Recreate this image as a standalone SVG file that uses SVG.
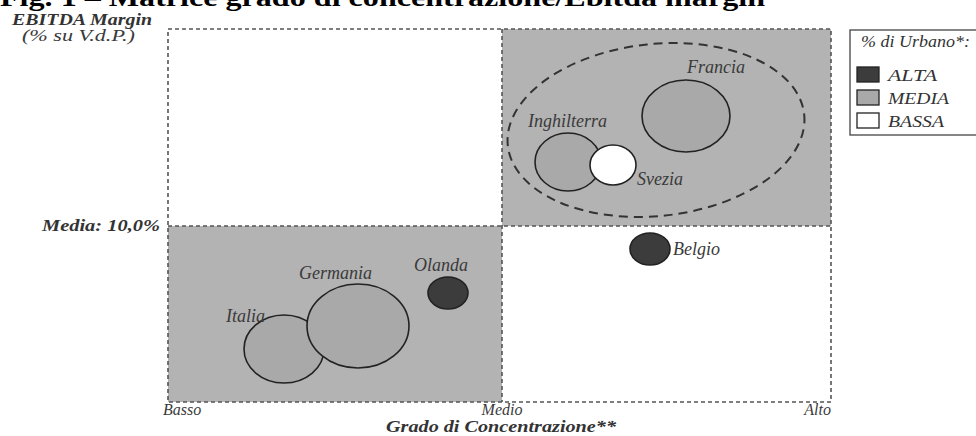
<svg xmlns="http://www.w3.org/2000/svg" width="976" height="436" viewBox="0 0 976 436">
<style>
.lbl{font-family:"Liberation Serif","DejaVu Serif",serif;font-style:italic;font-size:18px;fill:#3a3a3a}
.ax{font-family:"Liberation Serif","DejaVu Serif",serif;font-style:italic;font-size:16px;fill:#3a3a3a}
.axb{font-family:"Liberation Serif","DejaVu Serif",serif;font-style:italic;font-weight:bold;font-size:16px;fill:#333}
.title{font-family:"Liberation Serif","DejaVu Serif",serif;font-weight:bold;font-size:26px;fill:#000}
.grid{fill:none;stroke:#555;stroke-width:1.6;stroke-dasharray:4 3}
.quad{fill:#b3b3b3}
.bub{stroke:#222;stroke-width:1.6}
.alta{fill:#3c3c3c}
.media{fill:#a9a9a9}
.bassa{fill:#fff}
.leg{font-family:"Liberation Serif","DejaVu Serif",serif;font-style:italic;font-size:17px;fill:#333}
</style>
<rect width="976" height="436" fill="#fff"/>
<text class="title" x="0" y="6" textLength="765" lengthAdjust="spacingAndGlyphs">Fig. 1 – Matrice grado di concentrazione/Ebitda margin</text>

<g id="quadrants">
<rect class="quad" x="502" y="29" width="329" height="197"/>
<rect class="quad" x="168" y="226" width="334" height="176"/>
<rect class="grid" x="168" y="29" width="663" height="373"/>
<line class="grid" x1="502" y1="29" x2="502" y2="402"/>
<line class="grid" x1="168" y1="226" x2="831" y2="226"/>
</g>

<g id="axes-labels">
<text class="axb" x="12" y="24.5" font-size="14" textLength="140" lengthAdjust="spacingAndGlyphs">EBITDA Margin</text>
<text class="ax" x="22" y="41" font-size="13.5" textLength="113" lengthAdjust="spacingAndGlyphs">(% su V.d.P.)</text>
<text class="axb" x="160" y="231" text-anchor="end" textLength="118" lengthAdjust="spacingAndGlyphs">Media: 10,0%</text>
<text class="ax" x="163" y="415">Basso</text>
<text class="ax" x="502" y="415" text-anchor="middle">Medio</text>
<text class="ax" x="831" y="415" text-anchor="end">Alto</text>
<text class="axb" x="386" y="432" textLength="230" lengthAdjust="spacingAndGlyphs">Grado di Concentrazione**</text>
</g>

<g id="cluster">
<ellipse cx="656" cy="130" rx="149" ry="86" transform="rotate(-6 656 130)" fill="none" stroke="#333" stroke-width="2" stroke-dasharray="9 6"/>
</g>

<g id="node-francia">
<ellipse class="bub media" cx="686" cy="116" rx="44" ry="36"/>
<text class="lbl" x="716" y="73" text-anchor="middle">Francia</text>
</g>
<g id="node-inghilterra">
<ellipse class="bub media" cx="568" cy="162" rx="33" ry="29"/>
<text class="lbl" x="528" y="127">Inghilterra</text>
</g>
<g id="node-svezia">
<ellipse class="bub bassa" cx="613" cy="165" rx="23" ry="20"/>
<text class="lbl" x="637" y="185">Svezia</text>
</g>
<g id="node-belgio">
<ellipse class="bub alta" cx="650" cy="249" rx="20" ry="16"/>
<text class="lbl" x="673" y="255">Belgio</text>
</g>
<g id="node-italia">
<ellipse class="bub media" cx="284" cy="349" rx="40" ry="34"/>
<text class="lbl" x="226" y="322">Italia</text>
</g>
<g id="node-germania">
<ellipse class="bub media" cx="358" cy="326" rx="51" ry="42"/>
<text class="lbl" x="299" y="279">Germania</text>
</g>
<g id="node-olanda">
<ellipse class="bub alta" cx="448" cy="293" rx="20" ry="16"/>
<text class="lbl" x="414" y="271">Olanda</text>
</g>

<g id="connectors"></g>

<g id="legend">
<rect x="850" y="30" width="140" height="105" fill="#fff" stroke="#444" stroke-width="1.3"/>
<text class="leg" x="861" y="47" font-size="15" textLength="109" lengthAdjust="spacingAndGlyphs">% di Urbano*:</text>
<rect class="alta" x="857" y="67" width="22" height="15" stroke="#222" stroke-width="1.3"/>
<text class="leg" x="888" y="81" textLength="49" lengthAdjust="spacingAndGlyphs">ALTA</text>
<rect class="media" x="857" y="90" width="22" height="15" stroke="#222" stroke-width="1.3"/>
<text class="leg" x="888" y="104" textLength="61" lengthAdjust="spacingAndGlyphs">MEDIA</text>
<rect class="bassa" x="857" y="113" width="22" height="15" stroke="#222" stroke-width="1.3"/>
<text class="leg" x="888" y="127" textLength="56" lengthAdjust="spacingAndGlyphs">BASSA</text>
</g>
</svg>
